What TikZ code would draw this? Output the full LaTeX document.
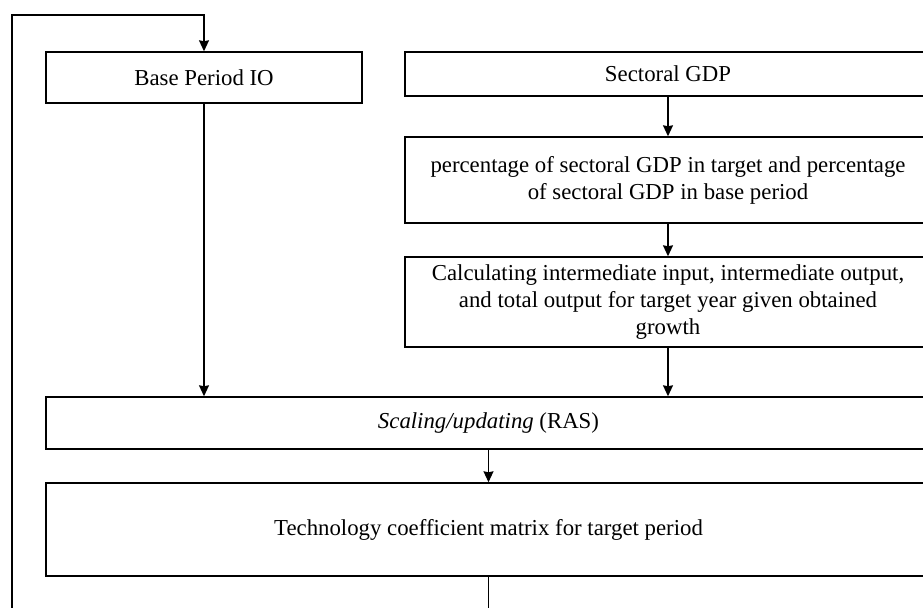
\documentclass[tikz,border=0pt]{standalone}
\usepackage{fontspec}
\setmainfont{Liberation Serif}
\usepackage{tikz}
\usetikzlibrary{arrows,arrows.meta,shapes,calc,positioning}
\tikzstyle{box}   =[draw, line width=0.7pt, align=center,
                    inner sep=2pt, font=\fontsize{11.4}{13.5}\selectfont]
\tikzstyle{edge}  =[->, >={Stealth[length=5.5pt,width=5pt,inset=0.5pt]}, line width=0.65pt]
\tikzstyle{wire}  =[line width=0.65pt]

\begin{document}
\begin{tikzpicture}[x=0.5pt, y=-0.5pt]
    \useasboundingbox (0,0) rectangle (923,608);
    \clip (0,0) rectangle (923,608);

    % left column
    \node (base) [box, minimum width=158pt, minimum height=25.5pt] at (204,77.5) {Base Period IO};

    % right column
    \node (gdp)  [box, minimum width=263pt, minimum height=22pt]   at (668,74)  {Sectoral GDP};
    \node (pct)  [box, minimum width=263pt, minimum height=43pt]   at (668,180)
        {percentage of sectoral GDP in target and percentage\\ of sectoral GDP in base period};
    \node (calc) [box, minimum width=263pt, minimum height=45pt]   at (668,302)
        {Calculating intermediate input, intermediate output,\\ and total output for target year given obtained\\ growth};

    % full width
    \node (ras)  [box, minimum width=442.5pt, minimum height=26pt]   at (488.5,423)
        {\textit{Scaling/updating} (RAS)};
    \node (tech) [box, minimum width=442.5pt, minimum height=46.5pt] at (488.5,529.5)
        {Technology coefficient matrix for target period};

    \coordinate (loopin)  at (12,620);
    \coordinate (looptop) at (204,15);
    \coordinate (techout) at (488.5,620);

    \foreach \i/\j in {gdp/pct,pct/calc,ras/tech}
        \draw [edge] (\i) -- (\j);
    \draw [edge] (base) -- (base.south |- ras.north);
    \draw [edge] (calc) -- (calc.south |- ras.north);
    \draw [edge] (loopin) |- (looptop) -- (base);
    \draw [wire] (tech) -- (techout);

\end{tikzpicture}
\end{document}
